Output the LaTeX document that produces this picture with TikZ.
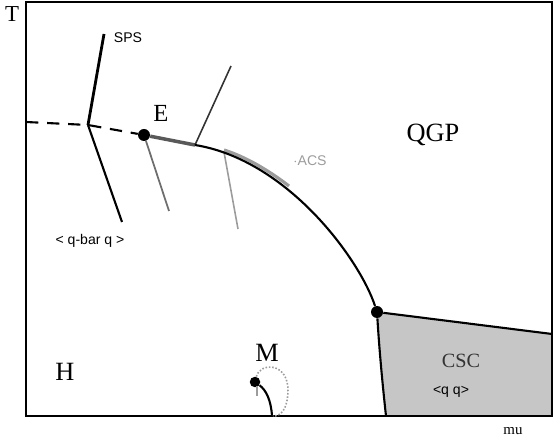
\documentclass[tikz,border=0pt]{standalone}
\usepackage{fontspec}
\setmainfont{Liberation Serif}
\newfontfamily\labelsans{Liberation Sans}
\usetikzlibrary{positioning}
\definecolor{ink}{HTML}{000000}
\definecolor{shade}{HTML}{6E6E6E}
\definecolor{pale}{HTML}{9C9C9C}
\definecolor{cscgray}{HTML}{C6C6C6}

\begin{document}
\begin{tikzpicture}[x=0.02cm,y=-0.02cm,
  border/.style={draw=ink,line width=1.6pt},
  pline/.style={draw=ink,line width=1.2pt},
  gline/.style={draw=shade,line width=1pt},
  pt/.style={circle,fill=ink,inner sep=0pt,minimum size=0.24cm},
  region/.style={font=\fontsize{15}{15}\selectfont},
  tag/.style={font=\labelsans\fontsize{8}{9}\selectfont}]
\useasboundingbox (0,0) rectangle (554,438);
\fill[cscgray] (377,312) -- (552,334) -- (552,416) -- (386,416) .. controls (382,380) and (379,345) .. (377,312);
\draw[border] (26,2) rectangle (552,416);
\node[font=\fontsize{13}{13}\selectfont] (T) at (12,14) {T};
\node[font=\fontsize{8.5}{9}\selectfont] (mu) at (513,431) {mu};
\coordinate (J) at (88,125);
\coordinate (A) at (195,145);
\coordinate (B) at (224,152);
\node[pt] (E) at (144,135) {};
\node[pt] (C) at (377,312) {};
\node[pt,minimum size=0.21cm] (M) at (255,382) {};
\draw[ink,line width=1.6pt] (104,34) -- (J);
\draw[pline] (J) -- (122,222);
\draw[pline,dash pattern=on 7pt off 5pt] (26,122) -- (J) -- (E);
\draw[gline] (E) -- (169,211);
\draw[draw=ink!65,line width=2pt] (E) -- (A);
\draw[draw=ink!80,line width=0.9pt] (A) -- (231,66);
\draw[draw=pale,line width=0.9pt] (B) -- (238,229);
\draw[draw=pale,line width=1.8pt] (224,150) .. controls (246,157) and (268,170) .. (289,186);
\draw[pline] (A) .. controls (288,160) and (360,260) .. (C);
\draw[pline] (C) -- (552,334);
\draw[pline] (C) .. controls (379,345) and (382,380) .. (386,416);
\draw[pline] (M) .. controls (266,390) and (271,400) .. (272,416);
\draw[draw=pale,line width=0.9pt,densely dotted] (M) .. controls (260,362) and (289,362) .. (288,392) .. controls (287,410) and (281,416) .. (273,416);
\draw[draw=pale,line width=0.8pt] (257,386) -- (257,396);
\node[font=\fontsize{14}{14}\selectfont] (Elab) at (161,113) {E};
\node[region] (qgp) at (433,135) {QGP};
\node[region] (hadron) at (65,372) {H};
\node[region] (Mlab) at (267,353) {M};
\node[font=\fontsize{11.5}{12}\selectfont,text=ink!80] (csc) at (461,361) {CSC};
\node[tag] (sps) at (128,38) {SPS};
\node[tag] (qbarq) at (90,241) {< q-bar q >};
\node[tag,text=pale] (acs) at (310,161) {$\cdot$ACS};
\node[tag] (qq) at (451,392) {<q q>};
\end{tikzpicture}
\end{document}
